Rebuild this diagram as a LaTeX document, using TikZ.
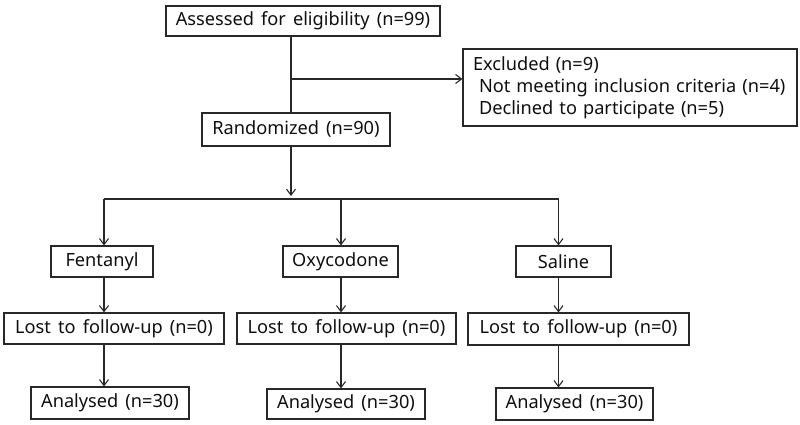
\documentclass[tikz,border=0pt]{standalone}
\usepackage{fontspec}
\setmainfont[WordSpace=1.5]{Noto Sans}
\usepackage{tikz}
\usetikzlibrary{arrows.meta, positioning}
\definecolor{linegray}{RGB}{40,40,40}
\definecolor{textgray}{RGB}{15,15,15}

\begin{document}
\begin{tikzpicture}[x=1pt, y=-1pt, line width=1.1pt, draw=linegray,
    font=\fontsize{18.2}{22}\selectfont, text=textgray,
    box/.style={draw, rectangle, inner sep=0pt},
    arr/.style={-{Straight Barb[length=6pt, width=9pt]}}]
                \useasboundingbox (0,0) rectangle (800,424);

                \node[box, minimum width=274pt, minimum height=30pt] (assess) at (303, 21) {Assessed for eligibility (n=99)};
                \node[box, minimum width=188pt, minimum height=33pt] (random) at (296, 129.5) {Randomized (n=90)};
                \node[box, minimum width=334pt, minimum height=77pt, inner xsep=10pt, text width=314pt, align=left] (excl) at (630, 87.5)
                    {Excluded (n=9)\\ \hspace*{6pt}Not meeting inclusion criteria (n=4)\\ \hspace*{6pt}Declined to participate (n=5)};
                \node[box, minimum width=102pt, minimum height=31pt] (fent) at (102, 261.5) {Fentanyl};
                \node[box, minimum width=115pt, minimum height=31pt] (oxy) at (340.5, 261.5) {Oxycodone};
                \node[box, minimum width=95pt, minimum height=31pt] (saline) at (563.5, 261.5) {Saline};
                \node[box, minimum width=220pt, minimum height=31pt] (lost1) at (114, 328.5) {Lost to follow-up (n=0)};
                \node[box, minimum width=219pt, minimum height=31pt] (lost2) at (346.5, 328.5) {Lost to follow-up (n=0)};
                \node[box, minimum width=221pt, minimum height=32pt] (lost3) at (578.5, 329) {Lost to follow-up (n=0)};
                \node[box, minimum width=158pt, minimum height=32pt] (anal1) at (110, 403) {Analysed (n=30)};
                \node[box, minimum width=158pt, minimum height=30pt] (anal2) at (346, 404) {Analysed (n=30)};
                \node[box, minimum width=157pt, minimum height=32pt] (anal3) at (574.5, 404) {Analysed (n=30)};

                \coordinate (trunk) at (291, 79);
                \coordinate (hub) at (291, 196);
                \coordinate (b1) at (104, 199);
                \coordinate (b2) at (341, 199);
                \coordinate (b3) at (558.5, 199);

                \draw (assess.south -| trunk) -- (random.north -| trunk);
                \draw[arr] (trunk) -- (excl.west |- trunk);
                \draw[arr] (random.south -| hub) -- (hub);
                \draw (b1) -- (b3);
                \draw[arr] (b1) -- (fent.north -| b1);
                \draw[arr] (b2) -- (oxy.north -| b2);
                \draw[arr] (b3) -- (saline.north -| b3);
                \draw[arr] (fent.south -| b1) -- (lost1.north -| b1);
                \draw[arr] (oxy.south -| b2) -- (lost2.north -| b2);
                \draw[arr] (saline.south -| b3) -- (lost3.north -| b3);
                \draw[arr] (lost1.south -| b1) -- (anal1.north -| b1);
                \draw[arr] (lost2.south -| b2) -- (anal2.north -| b2);
                \draw[arr] (lost3.south -| b3) -- (anal3.north -| b3);
            \end{tikzpicture}
\end{document}
